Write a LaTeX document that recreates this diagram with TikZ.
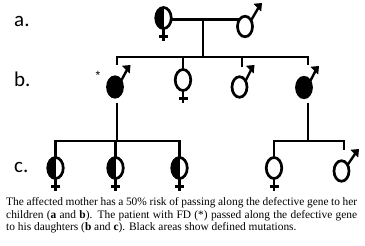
\documentclass[tikz,border=0pt]{standalone}
\usepackage{fontspec}
\setmainfont{Liberation Serif}
\newfontfamily\labelfont{Carlito}
\newfontfamily\symfont{Liberation Sans}
\usetikzlibrary{shapes.geometric}
\newcommand\femcross[1]{\draw[ln] (#1.south) -- ++(0,13) ([shift={(-4.5,8)}]#1.south) -- ++(9,0);}
\newcommand\malarrow[2]{\draw[ln] (#1.45) -- ([shift={(-2,2)}]#2); \fill[line join=miter] (#2) -- ([shift={(-8.5,0.8)}]#2) -- ([shift={(-0.8,8.5)}]#2) -- cycle;}
\begin{document}
\begin{tikzpicture}[x=1pt,y=-1pt,
  sym/.style={ellipse, draw, line width=2.7pt, inner sep=0pt, outer sep=0pt, minimum width=15.5pt, minimum height=21pt},
  fem/.style={sym},
  mal/.style={sym, minimum width=15pt, minimum height=20.5pt},
  halffill/.style={path picture={\fill[black] (path picture bounding box.north west) rectangle (path picture bounding box.south);}},
  full/.style={fill=black},
  ln/.style={line width=2.4pt},
  gen/.style={font=\labelfont\fontsize{21}{21}\selectfont, anchor=base west, inner sep=0pt},
  captext/.style={font=\fontsize{11.4}{13}\selectfont, anchor=base west, inner sep=0pt}
]
\useasboundingbox (0,0) rectangle (365,246);

% generation labels
\node[gen] (la) at (14,27) {a.};
\node[gen] (lb) at (14,87) {b.};
\node[gen] (lc) at (14,173) {c.};

% generation a
\node[fem, halffill] (m) at (163.5,18) {};
\femcross{m}
\node[mal] (f) at (245,26.5) {};
\coordinate (ft) at (262,3);
\malarrow{f}{ft}
\draw[ln] (f.128 -| m.east) -- (f.128);
\coordinate (mid) at (203,19);
\coordinate (sib) at (203,57);
\draw[ln] (mid) -- (sib);

% generation b
\node[mal, full] (b1) at (115,87) {};
\coordinate (b1t) at (130.5,65);
\malarrow{b1}{b1t}
\node[font=\symfont\fontsize{12}{12}\selectfont, inner sep=0pt] (ast) at (98,75) {*};
\node[fem] (b2) at (183,80) {};
\femcross{b2}
\node[mal] (b3) at (239.5,87) {};
\coordinate (b3t) at (254.5,65);
\malarrow{b3}{b3t}
\node[mal, full] (b4) at (304,87.5) {};
\coordinate (b4t) at (319,66);
\malarrow{b4}{b4t}

\coordinate (s1) at (117,57);
\coordinate (s4) at (308,57);
\coordinate (d1) at (117,65);
\coordinate (d3) at (242,67);
\coordinate (d4) at (308,65);
\draw[ln] (d1) -- (s1) -- (s4) -- (d4);
\draw[ln] (b2.north |- sib) -- (b2.north);
\draw[ln] (d3 |- sib) -- (d3);

% generation c
\node[fem, halffill] (c1) at (55.5,168) {};
\femcross{c1}
\node[fem, halffill] (c2) at (115.5,168) {};
\femcross{c2}
\node[fem, halffill] (c3) at (179.5,168) {};
\femcross{c3}
\node[fem] (c4) at (274,168) {};
\femcross{c4}
\node[mal] (c5) at (341.5,171) {};
\coordinate (c5t) at (359,149);
\malarrow{c5}{c5t}

\coordinate (u1) at (117,103);
\coordinate (v1) at (117,141);
\coordinate (u4) at (308,103);
\coordinate (v4) at (308,141);
\draw[ln] (u1) -- (v1);
\draw[ln] (u4) -- (v4);
\coordinate (e5) at (344,150);
\draw[ln] (c1.north) -- (c1.north |- v1) -- (c3.north |- v1) -- (c3.north);
\draw[ln] (c2.north |- v1) -- (c2.north);
\draw[ln] (c4.north) -- (c4.north |- v4) -- (e5 |- v4) -- (e5);

% caption
\node[captext] (cap1) at (6,206) {\makebox[351pt][s]{The affected mother has a 50\% risk of passing along the defective gene to her}};
\node[captext] (cap2) at (6,218.5) {\makebox[351pt][s]{children (\textbf{a} and \textbf{b}). The patient with FD (*) passed along the defective gene}};
\node[captext] (cap3) at (6,231) {to his daughters (\textbf{b} and \textbf{c}). Black areas show defined mutations.};
\end{tikzpicture}
\end{document}
